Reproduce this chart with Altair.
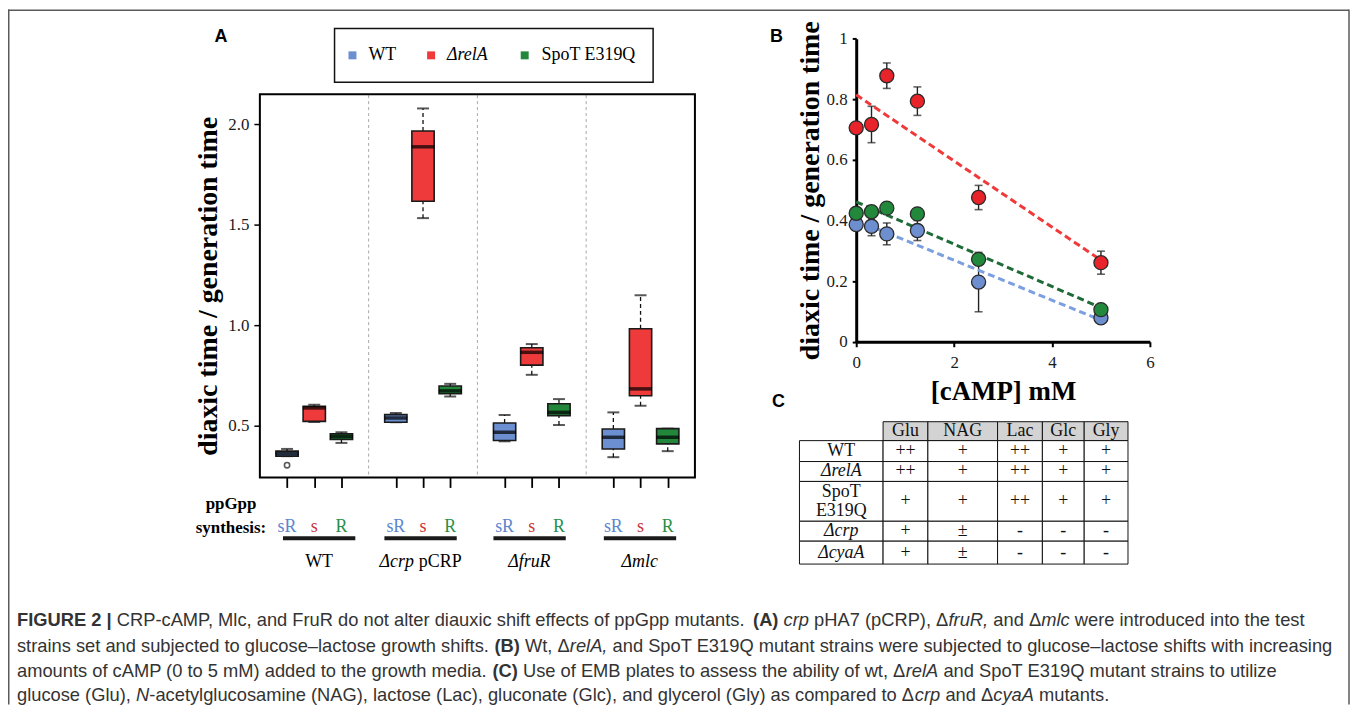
import altair as alt
import pandas as pd

# ---------------- Panel A data (box statistics) ----------------
group_names = ["WT", "Δcrp pCRP", "ΔfruR", "Δmlc"]
strain_names = ["WT", "ΔrelA", "SpoT E319Q"]
ppgpp_codes = ["sR", "s", "R"]

# order: group-major (WT, Δcrp pCRP, ΔfruR, Δmlc), strain-minor (WT, ΔrelA, SpoT E319Q)
a_whisker_low = [0.348, 0.518, 0.414, 0.517, 1.533, 0.645, 0.422, 0.753, 0.503, 0.343, 0.599, 0.373]
a_q1 = [0.348, 0.521, 0.431, 0.517, 1.617, 0.659, 0.426, 0.801, 0.550, 0.384, 0.649, 0.409]
a_median = [0.361, 0.588, 0.445, 0.538, 1.888, 0.673, 0.467, 0.865, 0.566, 0.442, 0.683, 0.442]
a_q3 = [0.373, 0.596, 0.459, 0.555, 1.967, 0.697, 0.513, 0.888, 0.609, 0.483, 0.982, 0.485]
a_whisker_high = [0.384, 0.604, 0.467, 0.563, 2.079, 0.708, 0.553, 0.906, 0.632, 0.566, 1.149, 0.485]
a_outlier_box = [0]
a_outlier_value = [0.303]

# ---------------- Panel B data ----------------
camp_mM = [0, 0.3125, 0.625, 1.25, 2.5, 5]
b_wt = [0.387, 0.381, 0.356, 0.367, 0.197, 0.079]
b_wt_err = [0.0, 0.031, 0.036, 0.033, 0.098, 0.012]
b_rela = [0.706, 0.717, 0.878, 0.794, 0.476, 0.261]
b_rela_err = [0.0, 0.060, 0.042, 0.047, 0.040, 0.038]
b_spot = [0.424, 0.429, 0.441, 0.422, 0.272, 0.106]
b_spot_err = [0.012, 0.012, 0.012, 0.012, 0.015, 0.012]

# ---------------- Panel C data ----------------
c_media = ["Glu", "NAG", "Lac", "Glc", "Gly"]
c_strains = ["WT", "ΔrelA", "SpoT E319Q", "Δcrp", "ΔcyaA"]
c_growth = [
    ["++", "+", "++", "+", "+"],
    ["++", "+", "++", "+", "+"],
    ["+", "+", "++", "+", "+"],
    ["+", "±", "-", "-", "-"],
    ["+", "±", "-", "-", "-"],
]

caption_lines = [
    [("FIGURE 2 |", "b"), (" CRP-cAMP, Mlc, and FruR do not alter diauxic shift effects of ppGpp mutants. ", "r"),
     ("(A)", "b"), (" ", "r"), ("crp", "i"), (" pHA7 (pCRP), Δ", "r"), ("fruR,", "i"), (" and Δ", "r"),
     ("mlc", "i"), (" were introduced into the test", "r")],
    [("strains set and subjected to glucose–lactose growth shifts. ", "r"), ("(B)", "b"), (" Wt, Δ", "r"),
     ("relA,", "i"), (" and SpoT E319Q mutant strains were subjected to glucose–lactose shifts with increasing", "r")],
    [("amounts of cAMP (0 to 5 mM) added to the growth media. ", "r"), ("(C)", "b"),
     (" Use of EMB plates to assess the ability of wt, Δ", "r"), ("relA", "i"),
     (" and SpoT E319Q mutant strains to utilize", "r")],
    [("glucose (Glu), ", "r"), ("N", "i"),
     ("-acetylglucosamine (NAG), lactose (Lac), gluconate (Glc), and glycerol (Gly) as compared to Δ", "r"),
     ("crp", "i"), (" and Δ", "r"), ("cyaA", "i"), (" mutants.", "r")],
]

# ---------------- layout / style ----------------
W, H = 1348, 698
SERIF = "Liberation Serif"
SANS = "Liberation Sans"
A_COLORS = ["#6b8fd0", "#ee3a3a", "#23873b"]
A_TEXT_COLORS = ["#5b86d0", "#cc3535", "#279048"]
B_POINT = {"WT": "#6d8fd0", "ΔrelA": "#e8232a", "SpoT E319Q": "#22893c"}
B_LINE = {"WT": "#7b9fdf", "ΔrelA": "#f03a3a", "SpoT E319Q": "#1e6b37"}

ARIAL = {" ": 278, "!": 278, "(": 333, ")": 333, ",": 278, "-": 333, ".": 278, "/": 278, ":": 278,
         "|": 260, "–": 556, "Δ": 668}
for ch in "0123456789":
    ARIAL[ch] = 556
ARIAL.update(dict(zip("ABCDEFGHIJKLMNOPQRSTUVWXYZ",
                      [667, 667, 722, 722, 667, 611, 778, 722, 278, 500, 667, 556, 833, 722, 778, 667, 778, 722,
                       667, 611, 722, 667, 944, 667, 667, 611])))
ARIAL.update(dict(zip("abcdefghijklmnopqrstuvwxyz",
                      [556, 556, 500, 556, 556, 278, 556, 556, 222, 222, 500, 222, 833, 556, 556, 556, 556, 333,
                       500, 278, 556, 500, 722, 500, 500, 500])))
ARIAL_B = dict(ARIAL)
ARIAL_B.update({"A": 722, "B": 722, "C": 722, "F": 611, "I": 278, "G": 778, "U": 722, "R": 722, "E": 667,
                "|": 280})

TIMES = {" ": 250, "(": 333, ")": 333, ",": 250, "-": 333, ".": 250, ":": 278, "Δ": 612, "+": 564}
for ch in "0123456789":
    TIMES[ch] = 500
TIMES.update(dict(zip("ABCDEFGHIJKLMNOPQRSTUVWXYZ",
                      [722, 667, 667, 722, 611, 556, 722, 722, 333, 389, 722, 611, 889, 722, 722, 556, 722, 667,
                       556, 611, 722, 722, 944, 722, 722, 611])))
TIMES.update(dict(zip("abcdefghijklmnopqrstuvwxyz",
                      [444, 500, 444, 500, 444, 333, 500, 500, 278, 278, 500, 278, 778, 500, 500, 500, 500, 333,
                       389, 278, 500, 500, 722, 500, 500, 444])))
TIMES_I = {"a": 500, "r": 389, "f": 278, "m": 722, "y": 444, "A": 611, "R": 611, "N": 667}
TIMES_B = {"p": 556, "G": 778, "n": 556, "h": 556, "t": 333, ":": 333, "e": 444}

ONE = pd.DataFrame({"k": [0]})


def seg_width(text, kind, fam):
    if fam == "sans":
        tbl = ARIAL_B if kind == "b" else ARIAL
        return sum(tbl.get(c, 556) for c in text) / 1000.0
    over = TIMES_I if kind == "i" else (TIMES_B if kind == "b" else {})
    return sum(over.get(c, TIMES.get(c, 500)) for c in text) / 1000.0


def text_layer(text, x, y, size, font, weight="normal", style="normal", color="black", align="left",
               baseline="middle"):
    return alt.Chart(ONE).mark_text(
        text=text, font=font, fontSize=size, fontWeight=weight, fontStyle=style, color=color,
        align=align, baseline=baseline
    ).encode(x=alt.value(x), y=alt.value(y))


def runs(segs, x, y, size, fam, align="left", color="black"):
    widths = [seg_width(t, k, fam) * size for t, k in segs]
    cur = x - sum(widths) / 2 if align == "center" else x
    out = []
    font = SANS if fam == "sans" else SERIF
    for (t, k), w in zip(segs, widths):
        stripped = t.lstrip(" ")
        lead = len(t) - len(stripped)
        sp = seg_width(" ", k, fam) * size
        body = stripped.rstrip(" ")
        if body:
            out.append(text_layer(body, cur + lead * sp, y, size, font,
                                  weight="bold" if k == "b" else "normal",
                                  style="italic" if k == "i" else "normal", color=color))
        cur += w
    return out


layers = []

# ---------------- outer frame ----------------
layers.append(alt.Chart(ONE).mark_rule(color="#5a5a5a", strokeWidth=1.5).encode(
    x=alt.value(0.75), y=alt.value(0), y2=alt.value(H)))
layers.append(alt.Chart(ONE).mark_rule(color="#5a5a5a", strokeWidth=1.5).encode(
    x=alt.value(0), x2=alt.value(1347), y=alt.value(0.75)))
layers.append(alt.Chart(ONE).mark_rule(color="#5a5a5a", strokeWidth=1.5).encode(
    x=alt.value(1347), y=alt.value(0), y2=alt.value(H)))

# ---------------- Panel A ----------------
A_XR = [253, 690]
A_YR = [470, 85]
A_XS = alt.Scale(domain=[0, 16], range=A_XR, nice=False, zero=False)
A_YS = alt.Scale(domain=[0.242, 2.15], range=A_YR, nice=False, zero=False)
A_COL = alt.Scale(domain=strain_names, range=A_COLORS)
BOX_HALF = 0.41

rows = []
for g in range(4):
    for s in range(3):
        i = g * 3 + s
        rows.append(dict(group=group_names[g], strain=strain_names[s], code=ppgpp_codes[s], pos=4 * g + s + 1,
                         lo=a_whisker_low[i], q1=a_q1[i], med=a_median[i], q3=a_q3[i], hi=a_whisker_high[i]))
box_df = pd.DataFrame(rows)
box_df["left"] = box_df["pos"] - BOX_HALF
box_df["right"] = box_df["pos"] + BOX_HALF
out_df = pd.DataFrame({"pos": [box_df["pos"][i] for i in a_outlier_box], "v": a_outlier_value})
sep_df = pd.DataFrame({"x": [4, 8, 12]})


def AX(f, axis=None):
    return alt.X(f"{f}:Q", scale=A_XS, axis=axis)


def AY(f, axis=None):
    return alt.Y(f"{f}:Q", scale=A_YS, axis=axis)


A_YAXIS = alt.Axis(orient="left", offset=-A_XR[0], values=[0.5, 1.0, 1.5, 2.0], format=".1f", grid=False,
                   domain=False, tickSize=6, tickWidth=1.5, tickColor="black", labelFont=SERIF,
                   labelFontSize=17, labelColor="#1a1a1a", labelPadding=5, labelFlush=False,
                   title="diaxic time / generation time", titleFont=SERIF, titleFontSize=28,
                   titleFontWeight="bold", titleColor="black", titlePadding=5)
A_XAXIS = alt.Axis(orient="bottom", offset=A_YR[0] - H, values=[1, 2, 3, 5, 6, 7, 9, 10, 11, 13, 14, 15],
                   labels=False, grid=False, domain=False, tickSize=10, tickWidth=1.8, tickColor="black",
                   title="")

layers.append(alt.Chart(sep_df).mark_rule(color="#a8a8a8", strokeDash=[3, 3], strokeWidth=1).encode(
    x=AX("x"), y=alt.value(A_YR[1] + 1), y2=alt.value(A_YR[0] - 1)))
layers.append(alt.Chart(box_df).mark_rule(color="#111", strokeWidth=1.3, strokeDash=[4, 3]).encode(
    x=AX("pos"), y=AY("lo"), y2="q1"))
layers.append(alt.Chart(box_df).mark_rule(color="#111", strokeWidth=1.3, strokeDash=[4, 3]).encode(
    x=AX("pos"), y=AY("q3"), y2="hi"))
layers.append(alt.Chart(box_df).mark_tick(orient="horizontal", size=12, thickness=2, color="#111").encode(
    x=AX("pos"), y=AY("lo")))
layers.append(alt.Chart(box_df).mark_tick(orient="horizontal", size=12, thickness=2, color="#111").encode(
    x=AX("pos"), y=AY("hi")))
layers.append(alt.Chart(box_df).mark_rect(stroke="#1a1a1a", strokeWidth=1.6).encode(
    x=AX("left"), x2="right", y=AY("q1"), y2="q3",
    color=alt.Color("strain:N", scale=A_COL, legend=None)))
layers.append(alt.Chart(box_df).mark_tick(orient="horizontal", size=23, thickness=3.5, color="black").encode(
    x=AX("pos", A_XAXIS), y=AY("med", A_YAXIS)))
layers.append(alt.Chart(out_df).mark_point(shape="circle", size=28, filled=False, color="#111",
                                           strokeWidth=1.6).encode(x=AX("pos"), y=AY("v")))
layers.append(alt.Chart(ONE).mark_rect(fillOpacity=0, stroke="black", strokeWidth=2).encode(
    x=alt.value(A_XR[0]), x2=alt.value(A_XR[1]), y=alt.value(A_YR[1]), y2=alt.value(A_YR[0])))

# legend of panel A
layers.append(alt.Chart(ONE).mark_rect(fill="white", stroke="#111", strokeWidth=1.5).encode(
    x=alt.value(328), x2=alt.value(648), y=alt.value(19), y2=alt.value(73)))
leg_sq_x = [346, 425, 519]
leg_tx_x = [362, 441, 536]
for s in range(3):
    layers.append(alt.Chart(ONE).mark_square(size=64, color=A_COLORS[s], opacity=1).encode(
        x=alt.value(leg_sq_x[s]), y=alt.value(46)))
    layers.append(text_layer(strain_names[s], leg_tx_x[s], 46, 18, SERIF,
                             style="italic" if strain_names[s].startswith("Δ") else "normal"))

layers.append(text_layer("A", 214, 28, 18, SANS, weight="bold", align="center"))

# ppGpp synthesis labels
layers.append(text_layer("ppGpp", 224, 497, 17, SERIF, weight="bold", align="center"))
layers.append(text_layer("synthesis:", 224, 521, 17, SERIF, weight="bold", align="center"))
layers.append(alt.Chart(box_df).mark_text(font=SERIF, fontSize=18, baseline="middle").encode(
    x=AX("pos"), y=alt.value(520), text="code:N",
    color=alt.Color("code:N", scale=alt.Scale(domain=ppgpp_codes, range=A_TEXT_COLORS), legend=None)))
group_center = [2.18, 5.91, 9.92, 13.98]
under_df = pd.DataFrame({"x0": [c - 1.33 for c in group_center], "x1": [c + 1.33 for c in group_center]})
layers.append(alt.Chart(under_df).mark_rule(color="#1a1a1a", strokeWidth=4).encode(
    x=AX("x0"), x2="x1", y=alt.value(531)))
for g, name in enumerate(group_names):
    cx = A_XR[0] + group_center[g] / 16 * (A_XR[1] - A_XR[0])
    if name.startswith("Δ"):
        parts = name.split(" ", 1)
        segs = [(parts[0], "i")] + ([(" " + parts[1], "r")] if len(parts) > 1 else [])
    else:
        segs = [(name, "r")]
    layers += runs(segs, cx, 555, 18, "serif", align="center")

# ---------------- Panel B ----------------
B_XR = [852, 1147]
B_YR = [333.7, 29.3]
B_XS = alt.Scale(domain=[0, 6], range=B_XR, nice=False, zero=False)
B_YS = alt.Scale(domain=[0, 1], range=B_YR, nice=False, zero=False)
B_YAXIS = alt.Axis(orient="left", offset=-B_XR[0], values=[0, 0.2, 0.4, 0.6, 0.8, 1.0], format=".1~f",
                   grid=False, domainColor="black", domainWidth=3, tickSize=4, tickWidth=2, tickColor="black",
                   labelFont=SERIF, labelFontSize=17, labelColor="#1a1a1a", labelPadding=5, labelFlush=False,
                   title="diaxic time / generation time", titleFont=SERIF, titleFontSize=28,
                   titleFontWeight="bold", titleColor="black", titlePadding=2)
B_XAXIS = alt.Axis(orient="bottom", offset=B_YR[0] - H, values=[0, 2, 4, 6], format="d", grid=False,
                   domainColor="black", domainWidth=3, tickSize=5, tickWidth=2, tickColor="black",
                   labelFont=SERIF, labelFontSize=17, labelColor="#1a1a1a", labelPadding=8, labelFlush=False,
                   title="[cAMP] mM", titleFont=SERIF, titleFontSize=27, titleFontWeight="bold",
                   titleColor="black", titlePadding=8)

series = {"WT": (b_wt, b_wt_err), "ΔrelA": (b_rela, b_rela_err), "SpoT E319Q": (b_spot, b_spot_err)}
b_frames = {}
for name, (vals, errs) in series.items():
    d = pd.DataFrame({"camp": camp_mM, "val": vals, "err": errs})
    d["lo"] = d["val"] - d["err"]
    d["hi"] = d["val"] + d["err"]
    b_frames[name] = d

for name, d in b_frames.items():
    e = d[d["err"] > 0]
    layers.append(alt.Chart(e).mark_rule(color="#222", strokeWidth=1.4).encode(
        x=alt.X("camp:Q", scale=B_XS, axis=None), y=alt.Y("lo:Q", scale=B_YS, axis=None), y2="hi"))
    for f in ["lo", "hi"]:
        layers.append(alt.Chart(e).mark_tick(orient="horizontal", size=8, thickness=1.6, color="#222").encode(
            x=alt.X("camp:Q", scale=B_XS, axis=None), y=alt.Y(f"{f}:Q", scale=B_YS, axis=None)))

for name in ["ΔrelA", "SpoT E319Q", "WT"]:
    layers.append(alt.Chart(b_frames[name]).transform_regression("camp", "val", extent=[0, 5]).mark_line(
        color=B_LINE[name], strokeDash=[7, 4], strokeWidth=3).encode(
        x=alt.X("camp:Q", scale=B_XS, axis=None), y=alt.Y("val:Q", scale=B_YS, axis=None)))

first = True
for name in ["ΔrelA", "WT", "SpoT E319Q"]:
    layers.append(alt.Chart(b_frames[name]).mark_circle(size=200, opacity=1, color=B_POINT[name],
                                                        stroke="#2a2a2a", strokeWidth=1.3).encode(
        x=alt.X("camp:Q", scale=B_XS, axis=B_XAXIS if first else None),
        y=alt.Y("val:Q", scale=B_YS, axis=B_YAXIS if first else None)))
    first = False

layers.append(text_layer("B", 772, 28, 18, SANS, weight="bold", align="center"))

# ---------------- Panel C (table) ----------------
col_w = [84, 45, 70, 45, 42, 44]
row_h = [19, 21, 20, 40, 20, 23]
col_e = [sum(col_w[:i]) for i in range(len(col_w) + 1)]
row_e = [sum(row_h[:i]) for i in range(len(row_h) + 1)]
C_XS = alt.Scale(domain=[0, col_e[-1]], range=[795, 1125], nice=False, zero=False)
C_YS = alt.Scale(domain=[0, row_e[-1]], range=[414, 557], nice=False, zero=False)
LINE_GAP = 19

cells, texts = [], []
for r in range(6):
    for c in range(6):
        if r == 0 and c == 0:
            continue
        cells.append(dict(x0=col_e[c], x1=col_e[c + 1], y0=row_e[r], y1=row_e[r + 1],
                          kind="head" if r == 0 else "body"))
        if r == 0:
            t = c_media[c - 1]
        elif c == 0:
            t = c_strains[r - 1]
        else:
            t = c_growth[r - 1][c - 1]
        xc = (col_e[c] + col_e[c + 1]) / 2
        yc = (row_e[r] + row_e[r + 1]) / 2
        ital = (c == 0 and t.startswith("Δ"))
        if c == 0 and " " in t and row_h[r] > 30:
            first_part, second_part = t.split(" ", 1)
            texts.append(dict(xc=xc, yc=yc - LINE_GAP / 2, t=first_part, ital=ital))
            texts.append(dict(xc=xc, yc=yc + LINE_GAP / 2, t=second_part, ital=ital))
        else:
            texts.append(dict(xc=xc, yc=yc, t=t, ital=ital))
cell_df = pd.DataFrame(cells)
text_df = pd.DataFrame(texts)

layers.append(alt.Chart(cell_df).mark_rect(stroke="#111", strokeWidth=1).encode(
    x=alt.X("x0:Q", scale=C_XS, axis=None), x2="x1",
    y=alt.Y("y0:Q", scale=C_YS, axis=None), y2="y1",
    color=alt.Color("kind:N", scale=alt.Scale(domain=["head", "body"], range=["#d3d3d3", "#ffffff"]),
                    legend=None)))
for ital in [False, True]:
    sub = text_df[text_df["ital"] == ital]
    layers.append(alt.Chart(sub).mark_text(font=SERIF, fontSize=18, color="#111", baseline="middle",
                                           fontStyle="italic" if ital else "normal").encode(
        x=alt.X("xc:Q", scale=C_XS, axis=None), y=alt.Y("yc:Q", scale=C_YS, axis=None), text="t:N"))

layers.append(text_layer("C", 774, 394, 18, SANS, weight="bold", align="center"))

# ---------------- caption ----------------
cap_y = [613, 639, 664, 689]
for line, y in zip(caption_lines, cap_y):
    layers += runs(line, 9, y, 18.4, "sans", color="#333")

chart = alt.layer(*layers).resolve_scale(
    x="independent", y="independent", color="independent"
).properties(
    width=W, height=H, autosize=alt.AutoSizeParams(type="none"), padding=0, background="white"
).configure_view(strokeWidth=0)

chart.save("out.html", embed_options={"renderer": "svg", "actions": False})
